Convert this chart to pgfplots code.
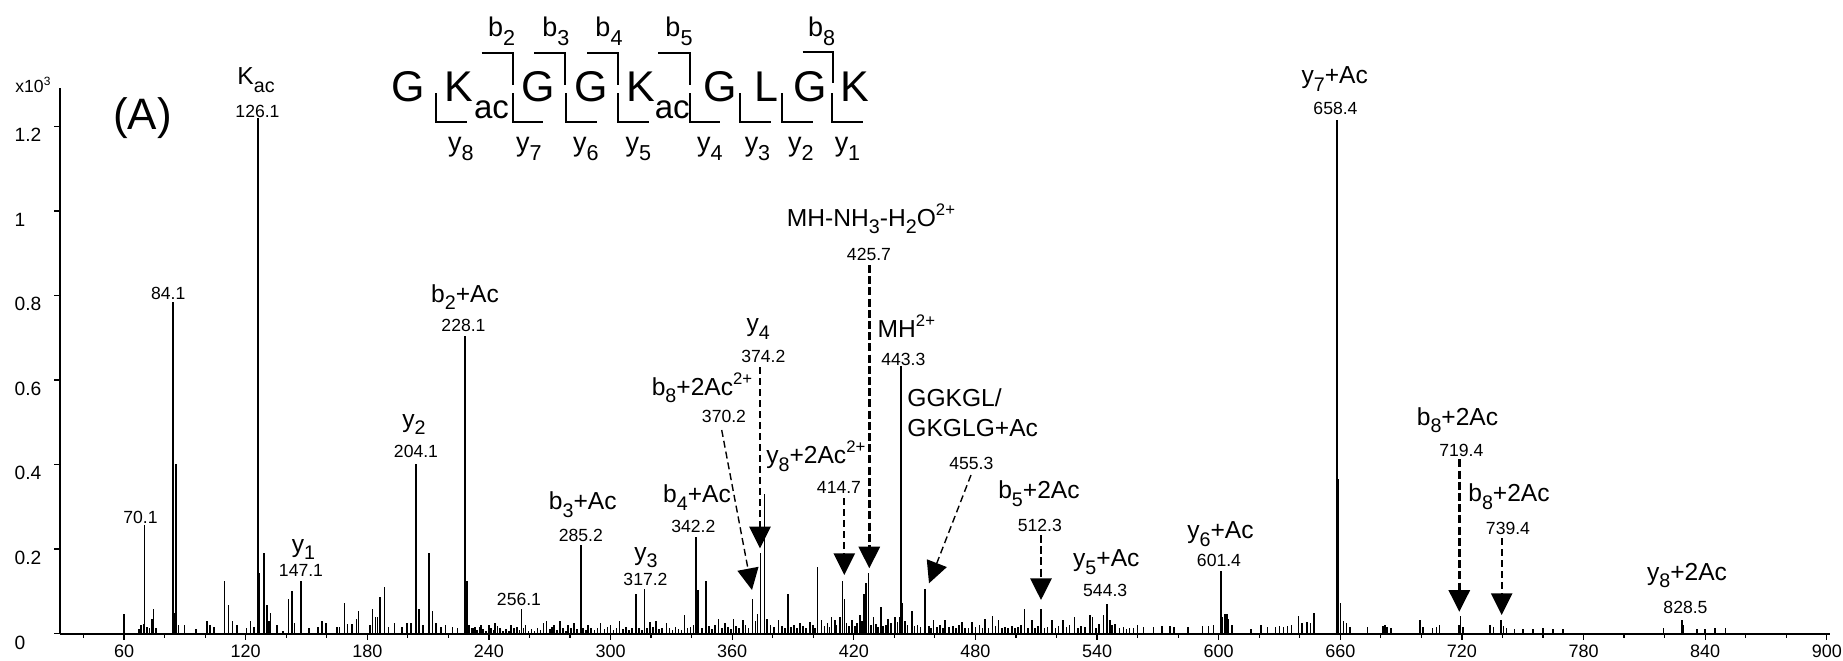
\documentclass[border=0pt]{standalone}
\usepackage{pgfplots}
\pgfplotsset{compat=1.18}
\usepackage{pgfplotstable}
\usepackage{fontspec}
\setmainfont{Liberation Sans}
\usepackage{graphicx}
\usetikzlibrary{arrows.meta}

\newcommand\sub[1]{\raisebox{-0.32em}{\scalebox{0.8}{#1}}}
\newcommand\sups[1]{\raisebox{0.42em}{\scalebox{0.68}{#1}}}
\newcommand\nm{\fontsize{12.3}{14}\selectfont}
\newcommand\nb{\fontsize{8.8}{10}\selectfont}

\pgfplotstableread{
mz I
60.0 0.045
67.5 0.010
68.5 0.020
69.5 0.022
70.1 0.256
71.3 0.015
72.5 0.012
73.7 0.035
74.5 0.059
75.8 0.012
84.1 0.785
84.7 0.049
85.5 0.402
86.8 0.020
89.8 0.020
95.5 0.010
100.8 0.029
102.5 0.020
104.5 0.015
109.5 0.124
111.5 0.068
113.5 0.029
115.6 0.020
120.5 0.012
122.3 0.029
124.2 0.016
126.1 1.220
126.9 0.143
129.1 0.190
130.4 0.068
131.5 0.030
132.2 0.049
135.5 0.020
138.5 0.006
141.1 0.082
143.0 0.100
144.0 0.026
147.2 0.124
151.3 0.012
155.8 0.016
157.6 0.030
159.6 0.026
165.0 0.015
166.2 0.015
168.7 0.072
170.2 0.022
172.5 0.022
174.6 0.035
175.6 0.053
181.3 0.020
182.5 0.057
184.0 0.039
185.1 0.040
186.3 0.086
188.4 0.110
190.5 0.015
193.4 0.026
197.0 0.015
199.5 0.026
201.7 0.026
204.1 0.400
205.5 0.059
207.5 0.020
210.5 0.190
212.1 0.053
213.8 0.025
216.5 0.015
218.5 0.020
222.0 0.015
224.5 0.012
228.1 0.705
229.1 0.124
230.3 0.020
231.5 0.014
233.0 0.015
236.0 0.020
240.0 0.020
243.0 0.025
244.2 0.018
251.0 0.020
254.0 0.015
256.1 0.059
258.0 0.020
267.0 0.025
268.5 0.030
272.0 0.020
275.0 0.030
279.0 0.020
282.0 0.025
285.3 0.209
289.0 0.020
295.0 0.025
300.0 0.020
304.5 0.030
312.6 0.093
316.8 0.105
319.5 0.027
322.5 0.030
327.7 0.026
336.4 0.043
342.2 0.229
343.0 0.102
347.1 0.124
353.2 0.034
356.5 0.024
360.6 0.034
365.2 0.032
370.1 0.082
373.9 0.190
375.9 0.331
377.2 0.035
382.9 0.032
387.4 0.093
393.5 0.024
398.5 0.027
402.1 0.158
404.1 0.032
409.1 0.039
410.6 0.032
413.1 0.039
414.5 0.124
415.4 0.082
419.0 0.031
423.1 0.043
425.1 0.094
426.1 0.119
427.2 0.143
429.7 0.039
433.3 0.063
437.0 0.035
440.4 0.039
443.2 0.632
444.0 0.072
448.6 0.053
455.2 0.106
459.3 0.031
465.0 0.031
473.3 0.027
478.2 0.027
484.8 0.035
488.4 0.041
491.3 0.031
504.2 0.059
507.8 0.033
512.3 0.059
517.7 0.031
523.2 0.033
528.9 0.039
536.4 0.043
537.7 0.039
543.1 0.044
544.8 0.070
546.5 0.031
549.0 0.022
232.0 0.012
234.0 0.008
235.5 0.015
237.0 0.010
238.5 0.006
241.0 0.014
242.5 0.009
245.5 0.012
247.0 0.007
248.5 0.011
250.0 0.006
252.5 0.013
255.0 0.008
257.0 0.014
259.5 0.007
261.0 0.010
262.5 0.006
264.0 0.012
265.5 0.009
270.0 0.011
271.0 0.016
273.5 0.008
276.5 0.012
278.0 0.007
280.5 0.013
283.5 0.010
286.5 0.012
288.0 0.008
290.5 0.014
292.0 0.009
293.5 0.012
297.0 0.011
298.5 0.016
301.5 0.009
303.0 0.013
306.0 0.010
307.5 0.015
309.0 0.008
310.5 0.012
314.0 0.014
315.5 0.009
318.0 0.012
321.0 0.016
324.0 0.010
325.5 0.014
329.0 0.012
330.5 0.008
332.0 0.015
333.5 0.011
335.0 0.009
338.0 0.013
339.5 0.016
341.0 0.020
345.0 0.012
348.5 0.017
350.0 0.011
351.5 0.020
355.0 0.013
358.0 0.016
359.5 0.010
362.0 0.018
363.5 0.012
366.5 0.020
368.0 0.014
371.5 0.030
372.5 0.045
379.0 0.020
380.5 0.015
384.5 0.017
386.0 0.012
389.0 0.016
390.5 0.021
392.0 0.012
395.0 0.018
396.5 0.013
400.0 0.020
401.0 0.014
405.5 0.018
407.0 0.024
408.0 0.016
411.5 0.020
416.5 0.025
417.5 0.018
420.5 0.017
421.5 0.025
424.0 0.030
428.5 0.020
431.0 0.022
432.0 0.016
434.5 0.018
436.0 0.020
438.5 0.025
441.5 0.028
442.5 0.040
445.2 0.030
446.5 0.020
450.0 0.018
451.5 0.020
453.0 0.016
457.0 0.018
458.0 0.013
461.0 0.016
462.5 0.020
464.0 0.012
467.0 0.015
469.0 0.018
470.5 0.012
472.0 0.020
475.0 0.014
476.5 0.012
480.0 0.016
482.0 0.020
483.5 0.013
486.5 0.014
490.0 0.018
493.0 0.012
494.5 0.016
496.0 0.013
498.0 0.017
499.5 0.012
501.0 0.015
502.5 0.020
506.0 0.014
509.5 0.012
511.0 0.018
514.0 0.012
515.5 0.016
519.5 0.014
521.0 0.018
525.0 0.016
526.5 0.020
530.5 0.014
532.0 0.017
534.0 0.015
539.5 0.013
541.0 0.022
547.5 0.020
551.0 0.012
553.0 0.015
554.5 0.010
556.0 0.012
558.0 0.013
560.0 0.020
563.0 0.015
567.8 0.016
572.0 0.017
576.0 0.018
578.0 0.015
585.0 0.016
592.0 0.017
595.0 0.017
597.5 0.020
601.2 0.147
601.9 0.040
603.0 0.045
604.0 0.045
604.8 0.035
606.5 0.020
616.0 0.010
621.0 0.020
624.0 0.016
628.0 0.015
630.0 0.018
632.0 0.015
634.0 0.018
636.0 0.020
639.3 0.041
641.0 0.025
643.6 0.027
645.3 0.025
647.1 0.049
658.4 1.215
658.9 0.365
660.2 0.072
661.5 0.030
663.0 0.025
664.8 0.015
673.4 0.015
681.0 0.018
682.0 0.020
683.0 0.015
685.0 0.012
699.4 0.031
700.8 0.015
705.5 0.013
707.5 0.015
709.0 0.020
718.5 0.020
719.4 0.041
720.5 0.015
734.0 0.020
735.5 0.015
739.4 0.033
740.5 0.018
742.0 0.012
746.0 0.010
750.0 0.010
755.0 0.010
760.0 0.012
765.0 0.010
770.0 0.010
819.4 0.014
828.5 0.033
829.3 0.020
836.0 0.010
840.0 0.010
845.0 0.012
850.0 0.012
}\peaks

\begin{document}
\begin{tikzpicture}
\useasboundingbox (-30.15pt,-13.25pt) rectangle (891.35pt,316.75pt);
\begin{axis}[
  scale only axis, width=884.85pt, height=272.75pt,
  at={(0pt,0pt)}, anchor=south west,
  xmin=28.55, xmax=901.6, ymin=0, ymax=1.291,
  axis x line=bottom, axis y line=left,
  axis line style={-, line width=1pt, black},
  every outer x axis line/.append style={-},
  every outer y axis line/.append style={-},
  xtick={60,120,...,900},
  xticklabels={60,120,180,240,300,360,420,480,540,600,660,720,780,840,900},
  minor xtick={40,80,100,140,160,200,220,260,280,320,340,380,400,440,460,500,520,560,580,620,640,680,700,740,760,800,820,860,880},
  ytick={0,0.2,0.4,0.6,0.8,1,1.2},
  yticklabels={0,0.2,0.4,0.6,0.8,1,1.2},
  tick align=outside, major tick length=3pt, minor tick length=2pt,
  every tick/.style={black, line width=0.6pt},
  xticklabel style={inner sep=0pt, yshift=-2.6pt, font=\fontsize{9}{10}\selectfont},
  yticklabel style={inner sep=0pt, anchor=north east, text width=13.4pt, align=left, xshift=-6.25pt, yshift=-0.85pt, font=\fontsize{9.6}{11}\selectfont},
  clip=false,
]
\addplot[ycomb, black, line width=0.8pt, no markers] table[x=mz, y=I] {\peaks};
\end{axis}

\begin{scope}[x=0.5pt, y=-0.5pt, shift={(-30.15pt,316.75pt)}]
% axis multiplier and panel letter
\node[anchor=base west, inner sep=0pt, font=\fontsize{8.8}{10}\selectfont] at (15,93) {x10\sups{3}};
\node[anchor=base, inner sep=0pt, font=\fontsize{22}{24}\selectfont] at (142.5,129.3) {(A)};

% peptide sequence
\begin{scope}[every node/.style={anchor=base, inner sep=0pt, font=\fontsize{21.5}{24}\selectfont}]
\node at (408,101.7) {G};
\node at (459,101.7) {K};
\node at (538,101.7) {G};
\node at (590.8,101.7) {G};
\node at (640.7,101.7) {K};
\node at (720.7,101.7) {G};
\node at (766.7,101.7) {L};
\node at (810,101.7) {G};
\node at (855,101.7) {K};
\end{scope}
\begin{scope}[every node/.style={anchor=base, inner sep=0pt, font=\fontsize{16.5}{18}\selectfont}]
\node at (491.5,118.3) {ac};
\node at (672.2,118.3) {ac};
\end{scope}
\begin{scope}[line width=0.9pt]
\draw (481.7,53.3) -- (512.7,53.3) -- (512.7,85);
\draw (534,53.3) -- (565,53.3) -- (565,85);
\draw (587.3,53.3) -- (618.3,53.3) -- (618.3,85);
\draw (658.3,53.3) -- (690,53.3) -- (690,85);
\draw (802.7,51.7) -- (833.3,51.7) -- (833.3,83.3);
\draw (436,93.3) -- (436,121.7) -- (467.3,121.7);
\draw (512.7,93.3) -- (512.7,121.7) -- (543.3,121.7);
\draw (566,93.3) -- (566,121.7) -- (596.7,121.7);
\draw (618.3,93.3) -- (618.3,121.7) -- (649.3,121.7);
\draw (690,93.3) -- (690,121.7) -- (720,121.7);
\draw (740,93.3) -- (740,121.7) -- (770.7,121.7);
\draw (781.7,93.3) -- (781.7,121.7) -- (812.7,121.7);
\draw (831.7,93.3) -- (831.7,121.7) -- (862.7,121.7);
\end{scope}
\begin{scope}[every node/.style={anchor=base, inner sep=0pt, font=\fontsize{13.5}{15}\selectfont}]
\node at (501.7,37) {b\sub{2}};
\node at (555.8,37) {b\sub{3}};
\node at (609,37) {b\sub{4}};
\node at (679,37) {b\sub{5}};
\node at (821.7,37) {b\sub{8}};
\node at (460.8,151.7) {y\sub{8}};
\node at (529,151.7) {y\sub{7}};
\node at (585.8,151.7) {y\sub{6}};
\node at (638.3,151.7) {y\sub{5}};
\node at (710,151.7) {y\sub{4}};
\node at (757.5,151.7) {y\sub{3}};
\node at (800.8,151.7) {y\sub{2}};
\node at (847.5,151.7) {y\sub{1}};
\end{scope}

% fragment names
\begin{scope}[every node/.style={anchor=base, inner sep=0pt, font=\nm}]
\node at (256,85) {K\sub{ac}};
\node at (303.5,552) {y\sub{1}};
\node at (414,427) {y\sub{2}};
\node at (465,302) {b\sub{2}+Ac};
\node at (582.8,509.3) {b\sub{3}+Ac};
\node at (646,560) {y\sub{3}};
\node at (697,502.7) {b\sub{4}+Ac};
\node at (702,395) {b\sub{8}+2Ac\sups{2+}};
\node at (758.3,331.7) {y\sub{4}};
\node at (815.8,463.3) {y\sub{8}+2Ac\sups{2+}};
\node at (871,226) {MH-NH\sub{3}-H\sub{2}O\sups{2+}};
\node[anchor=base west] at (877.3,337.3) {MH\sups{2+}};
\node[anchor=base west] at (907,406) {GGKGL/};
\node[anchor=base west] at (907,436.7) {GKGLG+Ac};
\node at (1039,498.3) {b\sub{5}+2Ac};
\node at (1106.3,566.7) {y\sub{5}+Ac};
\node at (1220.5,538.3) {y\sub{6}+Ac};
\node at (1334.7,83.3) {y\sub{7}+Ac};
\node at (1457.5,425) {b\sub{8}+2Ac};
\node at (1509,501.7) {b\sub{8}+2Ac};
\node at (1687,580) {y\sub{8}+2Ac};
\end{scope}

% m/z numbers
\begin{scope}[every node/.style={anchor=base, inner sep=0pt, font=\nb}]
\node at (257.5,117.3) {126.1};
\node at (168.3,299.3) {84.1};
\node at (140.5,523.3) {70.1};
\node at (301,576.7) {147.1};
\node at (416,457.3) {204.1};
\node at (463.5,331) {228.1};
\node at (519,605) {256.1};
\node at (580.8,541.7) {285.2};
\node at (645.5,585) {317.2};
\node at (693.3,532.7) {342.2};
\node at (724,422.7) {370.2};
\node at (763.3,362.7) {374.2};
\node at (839,493.3) {414.7};
\node at (869,260) {425.7};
\node at (903.3,365) {443.3};
\node at (971.3,469.3) {455.3};
\node at (1039.8,531) {512.3};
\node at (1105.2,596.7) {544.3};
\node at (1219,566.7) {601.4};
\node at (1335.5,115) {658.4};
\node at (1461.3,456.7) {719.4};
\node at (1508,534.5) {739.4};
\node at (1685.5,613.5) {828.5};
\end{scope}

% dashed arrows
\tikzset{tip/.style={-{Triangle[length=10.8pt,width=10.6pt]}}}
\draw[tip, line width=1.2pt, dash pattern=on 4pt off 1.6pt] (869.3,265) -- (869.3,568.3);
\draw[tip, line width=1.2pt, dash pattern=on 4pt off 1.6pt] (1459.3,459.3) -- (1459.3,611.7);
\draw[tip, line width=1.2pt, dash pattern=on 4pt off 1.6pt] (1041,535) -- (1041,600);
\draw[tip, line width=0.9pt, dash pattern=on 3.5pt off 2pt] (760,367) -- (760,548.3);
\draw[tip, line width=0.9pt, dash pattern=on 3.5pt off 2pt] (844.3,498.3) -- (844.3,575);
\draw[tip, line width=0.9pt, dash pattern=on 3.5pt off 2pt] (1501.7,538.3) -- (1501.7,615);
\draw[tip, line width=0.7pt, dash pattern=on 3.5pt off 2pt] (721.7,430) -- (752,590);
\draw[tip, line width=0.7pt, dash pattern=on 3.5pt off 2pt] (971,475) -- (929,583.3);
\end{scope}
\end{tikzpicture}
\end{document}
